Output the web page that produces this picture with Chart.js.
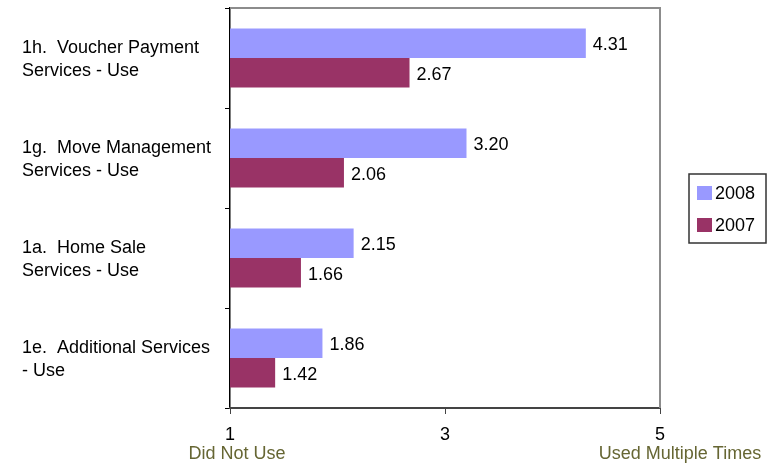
<!DOCTYPE html>
<html>
<head>
<meta charset="utf-8">
<script src="https://cdn.jsdelivr.net/npm/chart.js@4.4.1/dist/chart.umd.min.js"></script>
<style>
  html, body { margin: 0; padding: 0; background: #fff; }
  #wrap { width: 775px; height: 463px; position: relative; }
</style>
</head>
<body>
<div id="wrap"><canvas id="c" width="775" height="463"></canvas></div>
<script>
const categories = [
  ['1h.  Voucher Payment', 'Services - Use'],
  ['1g.  Move Management', 'Services - Use'],
  ['1a.  Home Sale', 'Services - Use'],
  ['1e.  Additional Services', '- Use']
];
const values2008 = [4.31, 3.20, 2.15, 1.86];
const values2007 = [2.67, 2.06, 1.66, 1.42];
const seriesNames = ['2008', '2007'];
const xTickValues = [1, 3, 5];
const endLabels = { 1: 'Did Not Use', 5: 'Used Multiple Times' };

const FONT = 'Liberation Sans, Arial, sans-serif';

const valueLabels = {
  id: 'valueLabels',
  afterDatasetsDraw(chart) {
    const ctx = chart.ctx;
    ctx.save();
    ctx.font = '18px ' + FONT;
    ctx.fillStyle = '#000';
    ctx.textBaseline = 'middle';
    ctx.textAlign = 'left';
    chart.data.datasets.forEach((ds, di) => {
      chart.getDatasetMeta(di).data.forEach((el, i) => {
        ctx.fillText(ds.data[i].toFixed(2), el.x + 7, el.y + 2);
      });
    });
    ctx.restore();
  }
};

const frame = {
  id: 'frame',
  afterDraw(chart) {
    const ctx = chart.ctx;
    const a = chart.chartArea;
    ctx.save();
    // top and right borders
    ctx.strokeStyle = '#8c8c8c';
    ctx.lineWidth = 2;
    ctx.beginPath();
    ctx.moveTo(a.left, a.top);
    ctx.lineTo(a.right, a.top);
    ctx.lineTo(a.right, a.bottom);
    ctx.stroke();
    // end labels under x axis
    const xs = chart.scales.x;
    ctx.font = '18px ' + FONT;
    ctx.fillStyle = '#666633';
    ctx.textAlign = 'center';
    ctx.textBaseline = 'middle';
    ctx.fillText(endLabels[1], xs.getPixelForValue(1) + 7, 454);
    ctx.fillText(endLabels[5], xs.getPixelForValue(5) + 20, 454);
    // legend
    const lx = a.right + 29, ly = 174, lw = 77, lh = 69;
    ctx.strokeStyle = '#333';
    ctx.lineWidth = 1.5;
    ctx.strokeRect(lx, ly, lw, lh);
    ctx.textAlign = 'left';
    ctx.fillStyle = '#000';
    chart.data.datasets.forEach((ds, i) => {
      const cy = ly + 19 + i * 32;
      ctx.fillStyle = ds.backgroundColor;
      ctx.fillRect(lx + 8, cy - 7, 15, 14);
      ctx.fillStyle = '#000';
      ctx.fillText(ds.label, lx + 26, cy + 1);
    });
    ctx.restore();
  }
};

new Chart(document.getElementById('c'), {
  type: 'bar',
  data: {
    labels: categories,
    datasets: [
      { label: seriesNames[0], data: values2008, backgroundColor: '#9999FF' },
      { label: seriesNames[1], data: values2007, backgroundColor: '#993366' }
    ]
  },
  options: {
    indexAxis: 'y',
    responsive: false,
    animation: false,
    devicePixelRatio: 1,
    layout: { padding: { left: 22, right: 115, top: 8, bottom: 0 } },
    datasets: { bar: { barPercentage: 1.0, categoryPercentage: 0.59 } },
    plugins: { legend: { display: false }, tooltip: { enabled: false } },
    scales: {
      y: {
        type: 'category',
        offset: true,
        grid: { drawOnChartArea: false, offset: true, tickLength: 5, color: '#000', lineWidth: 1 },
        border: { color: '#000', width: 1.5 },
        ticks: { crossAlign: 'far', color: '#000', font: { family: FONT, size: 18, lineHeight: 1.28 }, padding: 4, labelOffset: 2 },
        afterFit(scale) { scale.width = 208; scale.paddingTop = 0; scale.paddingBottom = 0; }
      },
      x: {
        type: 'linear',
        min: 1, max: 5,
        afterBuildTicks(scale) { scale.ticks = xTickValues.map(v => ({ value: v })); },
        grid: { drawOnChartArea: false, tickLength: 6, color: '#444', lineWidth: 1 },
        border: { color: '#444', width: 2 },
        ticks: { color: '#000', font: { family: FONT, size: 18 }, padding: 10, maxRotation: 0 },
        afterFit(scale) { scale.height = 55; scale.paddingLeft = 0; scale.paddingRight = 0; }
      }
    }
  },
  plugins: [valueLabels, frame]
});
</script>
</body>
</html>
